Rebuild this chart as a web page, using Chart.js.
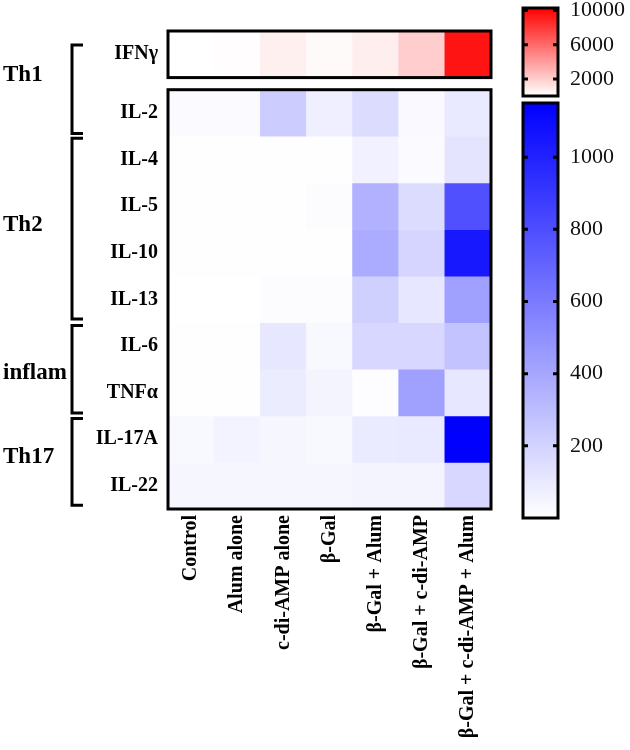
<!DOCTYPE html>
<html>
<head>
<meta charset="utf-8">
<script src="https://cdn.jsdelivr.net/npm/chart.js@4.4.1/dist/chart.umd.min.js"></script>
<style>
  body { margin: 0; background: #fff; }
  #wrap { position: relative; width: 630px; height: 750px; overflow: hidden; }
  canvas { position: absolute; }
</style>
</head>
<body>
<div id="wrap">
  <canvas id="heat" width="630" height="750" style="left:0;top:0"></canvas>
  <canvas id="redBar" width="120" height="120" style="left:510px;top:-12px"></canvas>
  <canvas id="blueBar" width="120" height="445" style="left:510px;top:85px"></canvas>
</div>
<script>
const groups = [
  'Control',
  'Alum alone',
  'c-di-AMP alone',
  'β-Gal',
  'β-Gal + Alum',
  'β-Gal + c-di-AMP',
  'β-Gal + c-di-AMP + Alum',
];

// IFNγ (red scale)
const ifng = [0, 100, 600, 200, 700, 2000, 9500];

// other cytokines (blue scale)
const cytokines = ['IL-2', 'IL-4', 'IL-5', 'IL-10', 'IL-13', 'IL-6', 'TNFα', 'IL-17A', 'IL-22'];
const il2 = [20, 20, 230, 70, 160, 25, 100];
const il4 = [5, 5, 5, 5, 65, 20, 120];
const il5 = [3, 3, 5, 15, 350, 160, 790];
const il10 = [3, 3, 3, 5, 380, 190, 1040];
const il13 = [2, 2, 15, 15, 210, 110, 430];
const il6 = [5, 5, 110, 30, 180, 180, 270];
const tnfa = [3, 3, 85, 50, 10, 430, 110];
const il17a = [30, 55, 40, 30, 90, 100, 1160];
const il22 = [40, 40, 40, 40, 50, 50, 180];
const blueRows = [il2, il4, il5, il10, il13, il6, tnfa, il17a, il22];

const redMax = 10300;
const redTicks = [2000, 6000, 10000];
const blueMax = 1150;
const blueTicks = [200, 400, 600, 800, 1000];

const groupNames = ['Th1', 'Th2', 'inflam', 'Th17'];

// row layout in y units: IFNγ row 0..1, small gap, then the 9 blue rows
const GAP = 0.26;
const rowStart = (k) => (k === 0 ? 0 : k + GAP);
const yMax = cytokines.length + 1 + GAP;

const serif = '"Liberation Serif", "DejaVu Serif", serif';

function blueColor(v) {
  const f = Math.min(v / blueMax, 1);
  const c = Math.round(255 * (1 - f));
  return `rgb(${c},${c},255)`;
}
function redColor(v) {
  const f = Math.min(v / redMax, 1);
  const c = Math.round(255 * (1 - f));
  return `rgb(255,${c},${c})`;
}

const rowLabels = ['IFNγ'].concat(cytokines);
const allRows = [ifng].concat(blueRows);

const datasets = allRows.map((vals, k) => ({
  label: rowLabels[k],
  data: vals.map(() => [rowStart(k), rowStart(k) + 1]),
  backgroundColor: vals.map(v => (k === 0 ? redColor(v) : blueColor(v))),
  borderWidth: 0,
  barPercentage: 1,
  categoryPercentage: 1,
}));

// brackets [from, to] and label position, in y units
const brackets = [
  { name: groupNames[0], from: 0.3, to: 2.2, labelY: 0.94 },
  { name: groupNames[1], from: 2.3, to: 6.18, labelY: 4.16 },
  { name: groupNames[2], from: 6.32, to: 8.2, labelY: 7.34 },
  { name: groupNames[3], from: 8.32, to: 10.18, labelY: 9.14 },
];

const framePlugin = {
  id: 'frame',
  afterDatasetsDraw(chart) {
    const ctx = chart.ctx;
    const y = chart.scales.y;
    const { left, right } = chart.chartArea;
    ctx.save();
    ctx.strokeStyle = '#000';
    ctx.lineWidth = 3;
    ctx.strokeRect(left, y.getPixelForValue(0), right - left, y.getPixelForValue(1) - y.getPixelForValue(0));
    ctx.strokeRect(left, y.getPixelForValue(1 + GAP), right - left, y.getPixelForValue(yMax) - y.getPixelForValue(1 + GAP));

    // group brackets
    ctx.font = 'bold 23px ' + serif;
    ctx.fillStyle = '#000';
    ctx.textBaseline = 'middle';
    ctx.textAlign = 'left';
    brackets.forEach(b => {
      const y0 = y.getPixelForValue(b.from);
      const y1 = y.getPixelForValue(b.to);
      ctx.beginPath();
      ctx.moveTo(83, y0);
      ctx.lineTo(72, y0);
      ctx.lineTo(72, y1);
      ctx.lineTo(83, y1);
      ctx.stroke();
      ctx.fillText(b.name, 3, y.getPixelForValue(b.labelY));
    });
    ctx.restore();
  }
};

new Chart(document.getElementById('heat'), {
  type: 'bar',
  data: { labels: groups, datasets: datasets },
  options: {
    responsive: false,
    animation: false,
    layout: { padding: { top: 31, right: 139, left: 0, bottom: 0 } },
    plugins: { legend: { display: false }, tooltip: { enabled: false } },
    scales: {
      x: {
        stacked: true,
        grid: { display: false, drawTicks: false },
        border: { display: false },
        ticks: {
          minRotation: 90,
          maxRotation: 90,
          padding: 6,
          color: '#000',
          font: { family: serif, size: 20, weight: 'bold' },
        },
        afterFit(scale) { scale.height = 241; },
      },
      y: {
        type: 'linear',
        reverse: true,
        min: 0,
        max: yMax,
        grid: { display: false, drawTicks: false },
        border: { display: false },
        afterBuildTicks(scale) {
          scale.ticks = rowLabels.map((_, k) => ({ value: rowStart(k) + 0.5 }));
        },
        ticks: {
          padding: 10,
          color: '#000',
          font: { family: serif, size: 20, weight: 'bold' },
          callback(value, index) { return rowLabels[index]; },
        },
        afterFit(scale) { scale.width = 168; },
      },
    },
  },
  plugins: [framePlugin],
});

// colour bars
const barTickPlugin = {
  id: 'barTicks',
  afterDatasetsDraw(chart) {
    const ctx = chart.ctx;
    const { left, right, top, bottom } = chart.chartArea;
    const y = chart.scales.y;
    ctx.save();
    ctx.strokeStyle = '#000';
    ctx.lineWidth = 3;
    y.ticks.forEach(t => {
      const p = y.getPixelForValue(t.value);
      ctx.beginPath();
      ctx.moveTo(left, p); ctx.lineTo(left + 5, p);
      ctx.moveTo(right - 5, p); ctx.lineTo(right, p);
      ctx.stroke();
    });
    ctx.strokeRect(left, top, right - left, bottom - top);
    ctx.restore();
  }
};

function colorBar(canvasId, max, ticks, topColor, padding) {
  return new Chart(document.getElementById(canvasId), {
    type: 'bar',
    data: {
      labels: [''],
      datasets: [{
        data: [[0, max]],
        barPercentage: 1,
        categoryPercentage: 1,
        borderWidth: 0,
        backgroundColor(c) {
          const a = c.chart.chartArea;
          if (!a) return topColor;
          const g = c.chart.ctx.createLinearGradient(0, a.bottom, 0, a.top);
          g.addColorStop(0, '#ffffff');
          g.addColorStop(1, topColor);
          return g;
        },
      }],
    },
    options: {
      responsive: false,
      animation: false,
      layout: { padding: padding },
      plugins: { legend: { display: false }, tooltip: { enabled: false } },
      scales: {
        x: { display: false },
        y: {
          position: 'right',
          min: 0,
          max: max,
          grid: { display: false, drawTicks: false },
          border: { display: false },
          afterBuildTicks(scale) { scale.ticks = ticks.map(v => ({ value: v })); },
          ticks: {
            padding: 12,
            color: '#111',
            font: { family: serif, size: 22 },
            callback(value) { return String(value); },
          },
          afterFit(scale) {
            scale.width = 72;
            scale.paddingTop = 0;
            scale.paddingBottom = 0;
          },
        },
      },
    },
    plugins: [barTickPlugin],
  });
}

// red bar: canvas top -12, area 8..96 on the page
colorBar('redBar', redMax, redTicks, 'rgb(255,0,0)', { left: 13, top: 20, bottom: 12, right: 0 });
// blue bar: canvas top 85, area 103..518 on the page
colorBar('blueBar', blueMax, blueTicks, 'rgb(0,0,255)', { left: 13, top: 18, bottom: 12, right: 0 });
</script>
</body>
</html>
